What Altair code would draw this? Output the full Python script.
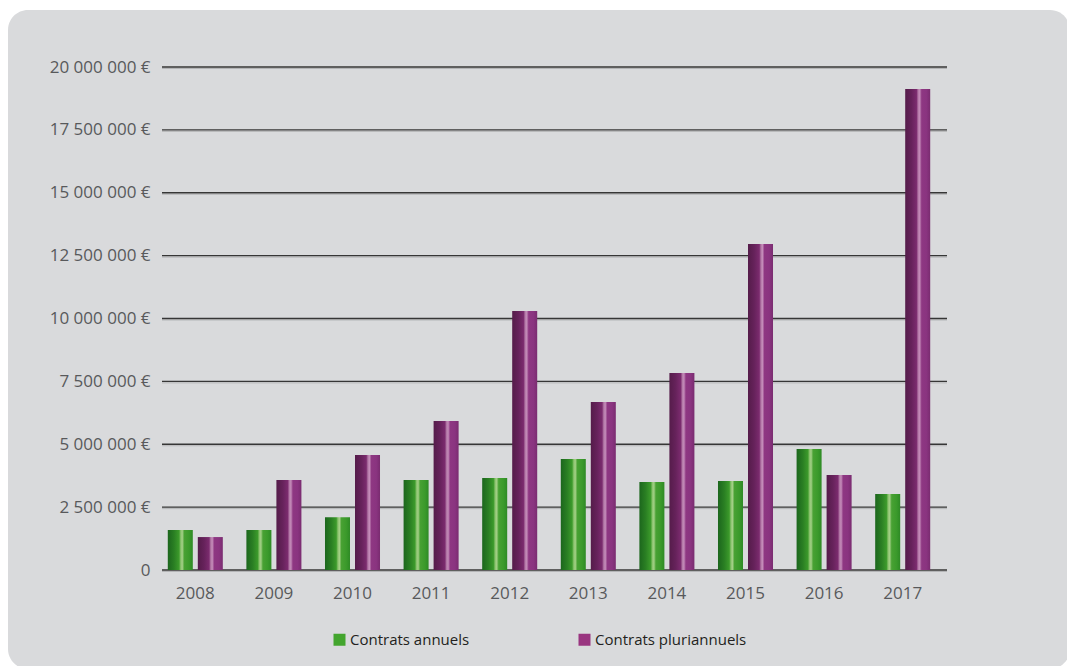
import altair as alt
import pandas as pd

years = ["2008", "2009", "2010", "2011", "2012", "2013", "2014", "2015", "2016", "2017"]
series = ["Contrats annuels", "Contrats pluriannuels"]
annuels = [1590000, 1590000, 2100000, 3580000, 3660000, 4410000, 3500000, 3540000, 4810000, 3020000]
pluriannuels = [1310000, 3580000, 4570000, 5920000, 10300000, 6680000, 7830000, 12960000, 3780000, 19130000]
y_ticks = [0, 2500000, 5000000, 7500000, 10000000, 12500000, 15000000, 17500000, 20000000]

rows = []
for i, yr in enumerate(years):
    rows.append({"year": yr, "serie": series[0], "value": annuels[i]})
    rows.append({"year": yr, "serie": series[1], "value": pluriannuels[i]})
df = pd.DataFrame(rows)
grid_df = pd.DataFrame({"value": y_ticks})

FONT = "Open Sans"

x = alt.X("year:N", sort=years,
          scale=alt.Scale(range=[-6, 780], paddingInner=0.3, paddingOuter=0.15),
          axis=alt.Axis(title=None, labelAngle=0, labelFont=FONT, labelFontSize=17,
                        labelColor="#58595b", labelPadding=15, ticks=False, tickSize=0,
                        domain=False, grid=False, zindex=1))
y = alt.Y("value:Q", scale=alt.Scale(domain=[0, 20000000], nice=False),
          axis=alt.Axis(title=None, values=y_ticks, labelFont=FONT, labelFontSize=17,
                        labelColor="#58595b", labelPadding=12, ticks=False, tickSize=0,
                        domain=False, grid=False, zindex=1,
                        labelExpr="datum.value == 0 ? '0' : join(split(format(datum.value, ','), ','), ' ') + ' €'"))
xo = alt.XOffset("serie:N", sort=series,
                 scale=alt.Scale(domain=series, paddingInner=0.1667, paddingOuter=0))

def grad(stops):
    return alt.Gradient(gradient="linear", x1=0, x2=1, y1=0, y2=0,
                        stops=[alt.GradientStop(offset=o, color=c) for o, c in stops])

green_grad = grad([(0, "#1c661d"), (0.25, "#2a7f23"), (0.45, "#3c9a2b"),
                   (0.52, "#8cc46f"), (0.58, "#a3cf86"), (0.66, "#48a133"),
                   (0.85, "#3b9a2b"), (1, "#2e8a25")])
purple_grad = grad([(0, "#551c4a"), (0.25, "#66225b"), (0.45, "#7b2b6e"),
                    (0.52, "#b47aa8"), (0.58, "#c48bb9"), (0.66, "#8e3782"),
                    (0.85, "#8a3480"), (1, "#7a2c70")])

bg = alt.Chart(alt.Data(values=[{"a": 1}])).mark_rect(
    cornerRadius=20, color="#d9dadc").encode(
    x=alt.value(-154), x2=alt.value(908), y=alt.value(-57), y2=alt.value(602))

grid_shadow = alt.Chart(grid_df).mark_rule(color="#b4b5b7", strokeWidth=1, yOffset=1.5).encode(
    y=alt.Y("value:Q"), x=alt.value(0), x2=alt.value(785))
grid = alt.Chart(grid_df).mark_rule(color="#363636", strokeWidth=1.4).encode(
    y=alt.Y("value:Q"), x=alt.value(0), x2=alt.value(785))

green = alt.Chart(df).transform_filter(alt.datum.serie == series[0]).mark_bar(
    fill=green_grad).encode(x=x, y=y, xOffset=xo)
purple = alt.Chart(df).transform_filter(alt.datum.serie == series[1]).mark_bar(
    fill=purple_grad).encode(x=x, y=y, xOffset=xo)

legend_layer = alt.Chart(df).mark_square(opacity=0, size=1).encode(
    x=x, y=y, xOffset=xo,
    color=alt.Color("serie:N", sort=series,
                    scale=alt.Scale(domain=series, range=["#43a52e", "#993580"]),
                    legend=alt.Legend(title=None, orient="none", legendX=170, legendY=565,
                                      direction="horizontal", symbolType="square",
                                      symbolSize=144, symbolOpacity=1, symbolStrokeWidth=0,
                                      labelFont=FONT, labelFontSize=15, labelColor="#231f20",
                                      columnPadding=107, labelOffset=3, zindex=1)))

chart = alt.layer(bg, grid_shadow, grid, green, purple, legend_layer).properties(
    width=785, height=503,
    autosize=alt.AutoSizeParams(type="none"),
    padding={"left": 162, "top": 67, "right": 120, "bottom": 96},
    background="white",
).configure_view(stroke=None)

chart.save("out.html", embed_options={"renderer": "svg", "actions": False})
